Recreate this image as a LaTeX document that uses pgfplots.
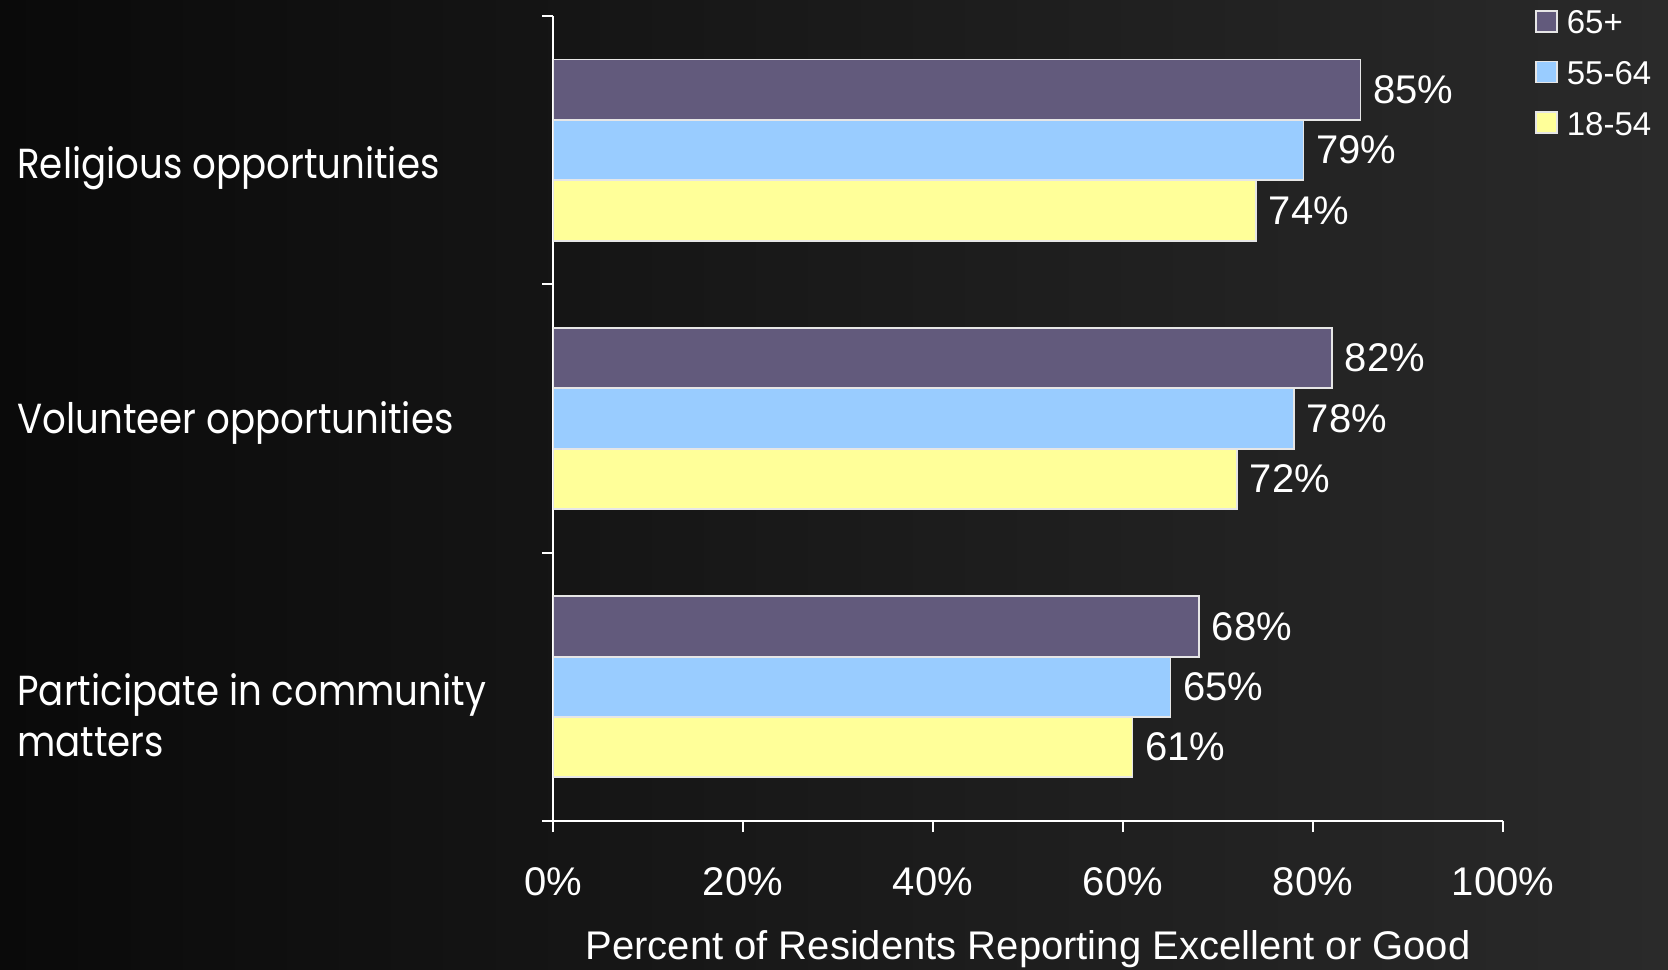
\documentclass[border=0pt]{standalone}
\usepackage{fontspec}
\setmainfont{Liberation Sans}
\newfontfamily\gothic[FakeStretch=0.885]{Poppins}
\usepackage{pgfplots}
\pgfplotsset{compat=1.18}
\definecolor{c65}{HTML}{625A7C}
\definecolor{c55}{HTML}{99CCFF}
\definecolor{c18}{HTML}{FFFF99}
\definecolor{bgL}{HTML}{0A0A0A}
\definecolor{bgR}{HTML}{2A2A2A}
\definecolor{edge}{HTML}{E6E6E6}
\begin{document}
\begin{tikzpicture}
\fill[left color=bgL,right color=bgR] (0,0) rectangle (834pt,484.5pt);
\useasboundingbox (0,0) rectangle (834pt,484.5pt);
\begin{axis}[
  at={(276.5pt,74pt)}, anchor=south west,
  scale only axis, width=475pt, height=402.5pt,
  xmin=0, xmax=100, ymin=-0.5, ymax=2.5,
  axis x line*=bottom, axis y line*=left,
  axis line style={white, line width=1pt},
  tick align=outside, major tick length=5.5pt,
  tick style={white, line width=1pt},
  xtick={0,20,40,60,80,100},
  xticklabel={\pgfmathprintnumber{\tick}\%},
  /pgf/number format/assume math mode=true,
  xticklabel style={font=\fontsize{20}{24}\selectfont, text=white, inner sep=0pt, yshift=-17.5pt},
  ytick={-0.5,0.5,1.5,2.5}, yticklabels={},
  extra y ticks={1.895,0.945,-0.068,-0.258},
  extra y tick labels={Religious opportunities,Volunteer opportunities,Participate in community,matters},
  extra y tick style={major tick length=0pt,
    yticklabel style={anchor=base west, xshift=-268pt, inner sep=0pt, text=white,
      font=\gothic\fontsize{21}{25}\selectfont}},
  xlabel={Percent of Residents Reporting Excellent or Good},
  xlabel style={at={(axis description cs:0.5,0)}, anchor=north, yshift=-54.5pt,
    inner sep=0pt, text=white, font=\fontsize{20}{24}\selectfont},
  xbar, bar width=0.225,
  point meta=x,
  nodes near coords={\pgfmathprintnumber{\pgfplotspointmeta}\%},
  nodes near coords style={anchor=west, inner sep=0pt, xshift=6pt, text=white,
    font=\fontsize{20}{24}\selectfont},
  legend cell align=left,
  legend image code/.code={\draw[#1] (0pt,-2.9pt) rectangle (10.5pt,7.6pt);},
  legend style={at={(axis description cs:1.0337,1.0078)}, anchor=north west,
    draw=none, fill=none, inner sep=0pt, outer sep=0pt,
    row sep=9.35pt, column sep=4.5pt, text=white,
    font=\fontsize{16.5}{19}\selectfont,
    nodes={inner sep=0pt, text height=12pt, text depth=4pt}},
]
\addplot[fill=c65, draw=edge, line width=0.9pt, bar shift=0.225]
  coordinates {(85,2) (82,1) (68,0)};
\addlegendentry{65+}
\addplot[fill=c55, draw=edge, line width=0.9pt, bar shift=0]
  coordinates {(79,2) (78,1) (65,0)};
\addlegendentry{55-64}
\addplot[fill=c18, draw=edge, line width=0.9pt, bar shift=-0.225]
  coordinates {(74,2) (72,1) (61,0)};
\addlegendentry{18-54}
\end{axis}
\end{tikzpicture}
\end{document}
